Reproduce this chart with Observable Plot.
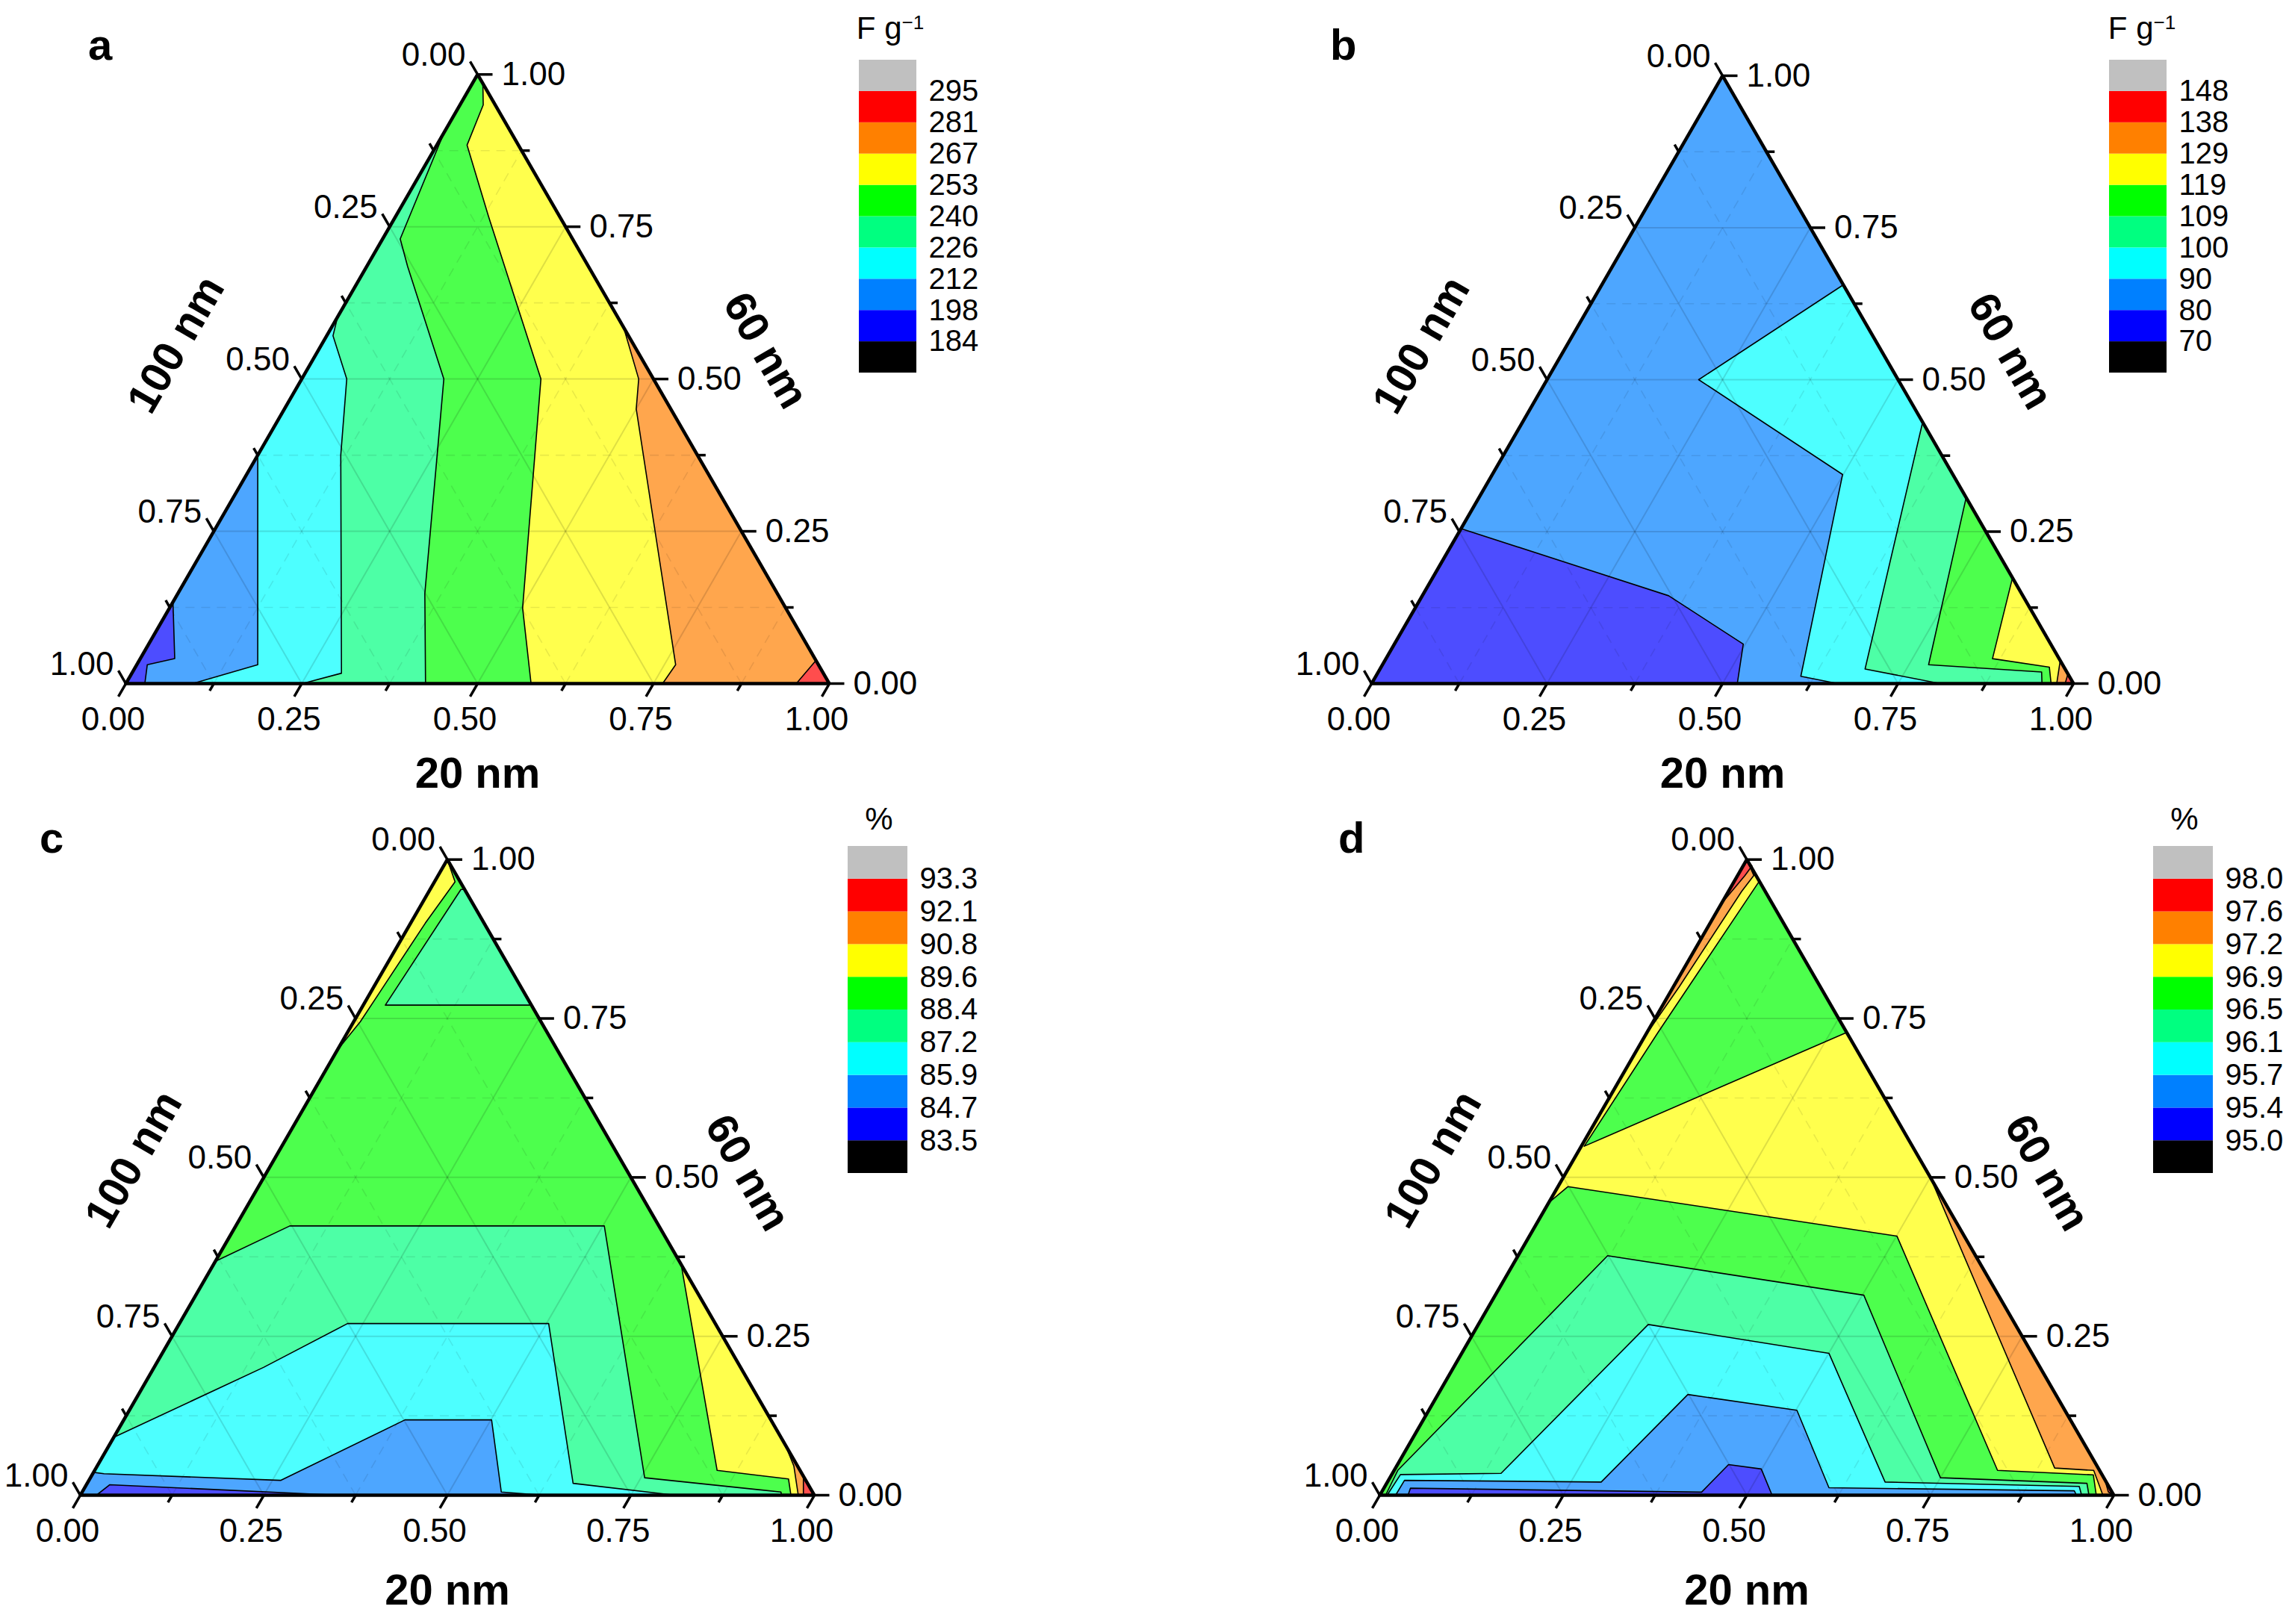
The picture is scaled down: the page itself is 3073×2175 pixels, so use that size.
<!DOCTYPE html>
<html><head><meta charset="utf-8">
<script src="https://cdn.jsdelivr.net/npm/d3@7"></script>
<script src="https://cdn.jsdelivr.net/npm/@observablehq/plot@0.6"></script>
<style>
html,body{margin:0;padding:0;background:#fff;}
#root{position:relative;width:3073px;height:2175px;background:#fff;font-family:"Liberation Sans",Arial,sans-serif;overflow:hidden;}
.letter{position:absolute;font-weight:bold;font-size:58px;line-height:1;}
.ltitle{position:absolute;font-size:42px;line-height:1;white-space:nowrap;text-align:center;width:200px;}
.ltitle sup{font-size:0.62em;vertical-align:0;position:relative;top:-0.5em;}
</style></head><body><div id="root"></div><script>
// ---------- data ----------
const palette = ["#000000","#0000ff","#0080ff","#00ffff","#00ff80","#00ff00","#ffff00","#ff8000","#ff0000","#c0c0c0"];
const levelsA = [184,198,212,226,240,253,267,281,295];
const levelsB = [70,80,90,100,109,119,129,138,148];
const levelsC = [83.5,84.7,85.9,87.2,88.4,89.6,90.8,92.1,93.3];
const levelsD = [95.0,95.4,95.7,96.1,96.5,96.9,97.2,97.6,98.0];
const axisTicks = [0,0.25,0.5,0.75,1];
const minorTicks = [0.125,0.375,0.625,0.875];
const axisTitles = ["20 nm","60 nm","100 nm"];
const panelLetters = ["a","b","c","d"];
const unitTitles = ["F g<sup>\u22121</sup>","F g<sup>\u22121</sup>","%","%"];
// contour regions, painted in order; v = lower bound of the band, points = [20 nm, 60 nm] fractions
const regionsA = [
 {v:184, pts:[[0,0],[1,0],[0,1]]},
 {v:198, pts:[[0,0.134],[0.049,0.041],[0.015,0.031],[0.027,0],[1,0],[0,1]]},
 {v:212, pts:[[0,0.375],[0.172,0.031],[0.095,0],[1,0],[0,1]]},
 {v:226, pts:[[0,0.602],[0.009,0.571],[0.064,0.5],[0.118,0.375],[0.298,0.017],[0.251,0],[1,0],[0,1]]},
 {v:240, pts:[[0,0.905],[0.025,0.73],[0.058,0.685],[0.202,0.5],[0.255,0.375],[0.351,0.148],[0.426,0],[1,0],[0,1]]},
 {v:253, pts:[[0.015,0.985],[0.033,0.95],[0.043,0.884],[0.132,0.767],[0.34,0.5],[0.502,0.124],[0.576,0],[1,0]]},
 {v:267, pts:[[0.415,0.585],[0.479,0.5],[0.5,0.451],[0.766,0.031],[0.763,0],[1,0]]},
 {v:281, pts:[[0.962,0.038],[0.953,0],[1,0]]}
];
const regionsB = [
 {v:80, pts:[[0,0],[1,0],[0,1]]},
 {v:70, pts:[[0,0.255],[0.351,0.1445],[0.497,0.065],[0.521,0],[0,0]]},
 {v:90, pts:[[0.344,0.656],[0.216,0.5],[0.499,0.344],[0.6055,0.012],[0.664,0],[1,0]]},
 {v:100, pts:[[0.57,0.43],[0.691,0.024],[0.81,0],[1,0]]},
 {v:109, pts:[[0.694,0.306],[0.778,0.031],[0.945,0.019],[0.955,0],[1,0]]},
 {v:119, pts:[[0.826,0.174],[0.864,0.041],[0.952,0.027],[0.968,0],[1,0]]},
 {v:129, pts:[[0.962,0.038],[0.976,0],[1,0]]},
 {v:138, pts:[[0.984,0.016],[0.988,0],[1,0]]}
];
const regionsC = [
 {v:88.4, pts:[[0,0],[1,0],[0,1]]},
 {v:87.2, pts:[[0.030,0.771],[0.042,0.953],[0.047,0.953],[0.229,0.771]]},
 {v:89.6, pts:[[0,1],[0.028,0.965],[0.02,0.9],[0.009,0.745],[0,0.70]]},
 {v:87.2, pts:[[0,0.368],[0.0736,0.4236],[0.502,0.4236],[0.755,0.0275],[0.952,0.005],[0.955,0],[0,0]]},
 {v:85.9, pts:[[0,0.091],[0.149,0.201],[0.229,0.270],[0.503,0.270],[0.662,0.0186],[0.81,0],[0,0]]},
 {v:84.7, pts:[[0,0.036],[0.0155,0.0337],[0.2616,0.0234],[0.383,0.1185],[0.501,0.1185],[0.571,0.005],[0.631,0],[0,0]]},
 {v:83.5, pts:[[0.022,0],[0.032,0.0165],[0.351,0]]},
 {v:89.6, pts:[[0.637,0.363],[0.848,0.039],[0.952,0.0255],[0.968,0],[1,0]]},
 {v:90.8, pts:[[0.92,0.08],[0.949,0.046],[0.978,0],[1,0]]},
 {v:92.1, pts:[[0.97,0.03],[0.985,0],[1,0]]}
];
const regionsD = [
 {v:96.9, pts:[[0,0],[1,0],[0,1]]},
 {v:97.2, pts:[[0,0.72],[0.008,0.80],[0.018,0.95],[0.022,0.975],[0,1]]},
 {v:97.6, pts:[[0,0.93],[0.01,0.975],[0.012,0.99],[0,1]]},
 {v:96.5, pts:[[0.004,0.549],[0.272,0.728],[0.034,0.966],[0.015,0.728]]},
 {v:96.5, pts:[[0,0.46],[0.0137,0.4855],[0.5006,0.4077],[0.822,0.039],[0.956,0.032],[0.976,0],[0,0]]},
 {v:96.1, pts:[[0.008,0],[0.005,0.039],[0.122,0.3767],[0.502,0.3147],[0.750,0.0275],[0.954,0.0186],[0.966,0]]},
 {v:95.7, pts:[[0.01,0],[0.012,0.0324],[0.148,0.0344],[0.2314,0.2686],[0.5004,0.2231],[0.678,0.0207],[0.9459,0.0138],[0.956,0]]},
 {v:95.4, pts:[[0.0216,0],[0.022,0.0234],[0.2913,0.0207],[0.3405,0.1584],[0.5014,0.1336],[0.606,0.0117],[0.9426,0.0069],[0.949,0]]},
 {v:95.0, pts:[[0.0385,0],[0.0363,0.011],[0.436,0.0048],[0.451,0.0482],[0.499,0.0413],[0.5344,0]]},
 {v:97.2, pts:[[0.5,0.5],[0.898,0.0427],[0.953,0.039],[0.985,0],[1,0]]},
 {v:97.6, pts:[[0.975,0.025],[0.99,0.005],[1,0]]}
];

// ---------- layout ----------
const panels = [
 {regions:regionsA, levels:levelsA, fmt:"d",   left:0,    top:0,    blx:168, bly:915, side:942, tb:121, lt:[-168,-46], rt:[150,-38],
  leg:{left:1150, top:80, w:77, h:419}, titleX:1192, titleTop:17, letter:[118,31]},
 {regions:regionsB, levels:levelsB, fmt:"d",   left:1536, top:0,    blx:300, bly:915, side:940, tb:121, lt:[-168,-46], rt:[150,-38],
  leg:{left:2824, top:80, w:77, h:419}, titleX:2868, titleTop:17, letter:[1781,31]},
 {regions:regionsC, levels:levelsC, fmt:".1f", left:0,    top:1087, blx:107, bly:915, side:983, tb:128, lt:[-174,-24], rt:[156,-6],
  leg:{left:1135, top:1133, w:80, h:438}, titleX:1177, titleTop:1076, letter:[53,1093]},
 {regions:regionsD, levels:levelsD, fmt:".1f", left:1536, top:1087, blx:311, bly:915, side:983, tb:128, lt:[-174,-24], rt:[156,-6],
  leg:{left:2883, top:1133, w:80, h:438}, titleX:2925, titleTop:1076, letter:[1792,1093]}
];

const SQ = Math.sqrt(3) / 2;
const cart = (a20, a60) => [a20 + a60 / 2, a60 * SQ];
const root = document.getElementById("root");
const FONT = '"Liberation Sans", Arial, sans-serif';
function place(el, left, top) {
  el.style.position = "absolute"; el.style.left = left + "px"; el.style.top = top + "px";
  root.appendChild(el);
}

function ternary(p) {
  const W = 1537, H = 1088, S = p.side, u = 1 / S;
  const faded = palette.map(c => d3.interpolateRgb(c, "#ffffff")(0.3));
  const rows = p.regions.flatMap((r, k) => [...r.pts, r.pts[0]].map(([a, b]) => {
    const [x, y] = cart(a, b); return {id: k, v: r.v, x, y};
  }));
  const gridT = [...minorTicks, ...axisTicks.filter(t => t > 0 && t < 1)];
  const grid = gridT.flatMap(t => {
    const major = axisTicks.includes(t);
    return [[cart(t, 0), cart(t, 1 - t)], [cart(0, t), cart(1 - t, t)], [cart(1 - t, 0), cart(0, 1 - t)]]
      .map(([a, b]) => ({major, x1: a[0], y1: a[1], x2: b[0], y2: b[1]}));
  });
  const tickRows = [...axisTicks, ...minorTicks].flatMap(t => {
    const L = (axisTicks.includes(t) ? 20 : 11) * u;
    const bot = cart(t, 0), rgt = cart(1 - t, t), lft = cart(0, 1 - t);
    return [
      {x1: bot[0], y1: bot[1], x2: bot[0] - 0.5 * L, y2: bot[1] - SQ * L},
      {x1: rgt[0], y1: rgt[1], x2: rgt[0] + L, y2: rgt[1]},
      {x1: lft[0], y1: lft[1], x2: lft[0] - 0.5 * L, y2: lft[1] + SQ * L}
    ];
  });
  const frame = [[0, 0], [1, 0], [0, 1], [0, 0]].map(([a, b]) => cart(a, b));
  const f2 = d3.format(".2f");
  const lk = {x1: "x1", y1: "y1", x2: "x2", y2: "y2"};
  const midR = cart(0.5, 0.5), midL = cart(0, 0.5);
  return Plot.plot({
    width: W, height: H,
    marginLeft: p.blx, marginRight: W - p.blx - S, marginTop: p.bly - S * SQ, marginBottom: H - p.bly,
    x: {domain: [0, 1], axis: null}, y: {domain: [0, SQ], axis: null},
    color: {type: "threshold", domain: p.levels, range: faded},
    style: {fontFamily: FONT, fontSize: "44px", background: "transparent", overflow: "visible", maxWidth: "none", color: "#000"},
    marks: [
      Plot.line(rows, {x: "x", y: "y", z: "id", fill: "v", stroke: "#000", strokeWidth: 1.6, strokeLinejoin: "round"}),
      Plot.link(grid.filter(g => g.major), {...lk, stroke: "#000", strokeOpacity: 0.13, strokeWidth: 2}),
      Plot.link(grid.filter(g => !g.major), {...lk, stroke: "#000", strokeOpacity: 0.09, strokeWidth: 1.6, strokeDasharray: "12,9"}),
      Plot.line(frame, {x: d => d[0], y: d => d[1], stroke: "#000", strokeWidth: 4.5, strokeLinejoin: "miter"}),
      Plot.link(tickRows, {...lk, stroke: "#000", strokeWidth: 3.5}),
      Plot.text(axisTicks, {x: t => cart(t, 0)[0], y: t => cart(t, 0)[1], text: f2, dx: -17, dy: 48, textAnchor: "middle", fontSize: 44}),
      Plot.text(axisTicks, {x: t => cart(1 - t, t)[0], y: t => cart(1 - t, t)[1], text: f2, dx: 32, textAnchor: "start", fontSize: 44}),
      Plot.text(axisTicks, {x: t => cart(0, 1 - t)[0], y: t => cart(0, 1 - t)[1], text: f2, dx: -16, dy: -26, textAnchor: "end", fontSize: 44}),
      Plot.text([axisTitles[0]], {x: cart(0.5, 0)[0], y: 0, text: d => d, dy: p.tb, fontWeight: "bold", fontSize: 58}),
      Plot.text([axisTitles[1]], {x: midR[0], y: midR[1], text: d => d, dx: p.rt[0], dy: p.rt[1], rotate: 60, fontWeight: "bold", fontSize: 58}),
      Plot.text([axisTitles[2]], {x: midL[0], y: midL[1], text: d => d, dx: p.lt[0], dy: p.lt[1], rotate: -60, fontWeight: "bold", fontSize: 58})
    ]
  });
}

function legend(p) {
  const W = 220, g = p.leg, fmt = d3.format(p.fmt);
  const swatches = d3.range(palette.length);
  return Plot.plot({
    width: W, height: g.h, marginLeft: 0, marginRight: W - g.w, marginTop: 0, marginBottom: 0,
    x: {domain: [0, 1], axis: null}, y: {domain: [0, palette.length], axis: null},
    color: {type: "identity"},
    style: {fontFamily: FONT, fontSize: "40px", background: "transparent", overflow: "visible", maxWidth: "none", color: "#000"},
    marks: [
      Plot.rect(swatches, {x1: 0, x2: 1, y1: d => d, y2: d => d + 1, fill: d => palette[d]}),
      Plot.text(p.levels, {x: 1, y: (d, i) => i + 1, text: d => fmt(d), dx: 16, textAnchor: "start", fontSize: 40})
    ]
  });
}

panels.forEach((p, i) => {
  place(ternary(p), p.left, p.top);
  place(legend(p), p.leg.left, p.leg.top);
  const t = document.createElement("div");
  t.className = "ltitle"; t.innerHTML = unitTitles[i];
  place(t, p.titleX - 100, p.titleTop);
  const l = document.createElement("div");
  l.className = "letter"; l.textContent = panelLetters[i];
  place(l, p.letter[0], p.letter[1]);
});
</script></body></html>
